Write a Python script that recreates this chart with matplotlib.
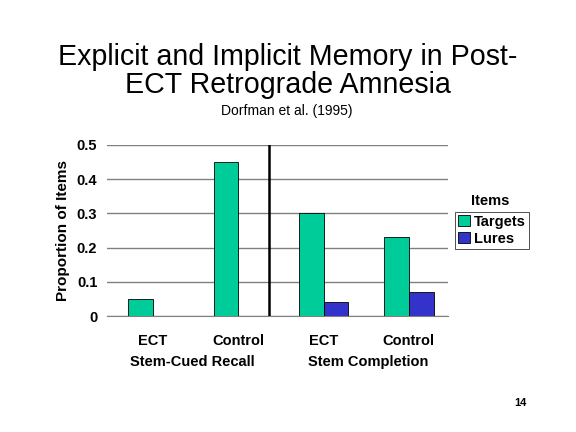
import matplotlib
matplotlib.use("Agg")
import matplotlib.pyplot as plt
import numpy as np
from matplotlib.patches import Patch

plt.rcParams['font.family'] = ['Liberation Sans', 'DejaVu Sans']

conditions = ["ECT", "Control", "ECT", "Control"]
groups = ["Stem-Cued Recall", "Stem Completion"]
targets = [0.05, 0.45, 0.30, 0.23]
lures = [np.nan, np.nan, 0.04, 0.07]
yticks = [0, 0.1, 0.2, 0.3, 0.4, 0.5]
ytick_labels = ["0", "0.1", "0.2", "0.3", "0.4", "0.5"]

green = "#00CC99"
blue = "#3333CC"

fig = plt.figure(figsize=(5.76, 4.32), dpi=100)
ax = fig.add_axes([107/576, 1-316/432, 341/576, 171/432])

x = np.arange(len(conditions))
w = 0.29
ax.bar(x - w/2, targets, w, color=green, edgecolor="black", linewidth=0.6, zorder=3)
ax.bar(x + w/2, lures, w, color=blue, edgecolor="black", linewidth=0.6, zorder=3)

ax.set_xlim(-0.54, 3.46)
ax.set_ylim(0, 0.5)
ax.set_yticks(yticks)
ax.set_yticklabels(ytick_labels, fontsize=10.5, fontweight="bold")
ax.set_xticks(x)
ax.set_xticklabels(conditions, fontsize=10.5, fontweight="bold")
ax.tick_params(axis="both", length=0)
ax.tick_params(axis="x", pad=13)
ax.tick_params(axis="y", pad=7)
ax.yaxis.grid(True, color="#808080", linewidth=1, zorder=0)
for s in ["left", "right", "top"]:
    ax.spines[s].set_visible(False)
ax.spines["bottom"].set_color("#808080")
ax.set_ylabel("Proportion of Items", fontsize=11, fontweight="bold", labelpad=5)

ax.axvline(1.36, color="black", linewidth=1.8, zorder=4)

trans = ax.get_xaxis_transform()
for gx, g in zip([0.46, 2.52], groups):
    ax.text(gx, -0.27, g, transform=trans, ha="center", va="center",
            fontsize=10.5, fontweight="bold")

fig.text(288/576, 1-57/432, "Explicit and Implicit Memory in Post-", ha="center",
         va="center", fontsize=20.6)
fig.text(288/576, 1-85/432, "ECT Retrograde Amnesia", ha="center",
         va="center", fontsize=20.6)
fig.text(287/576, 1-111/432, "Dorfman et al. (1995)", ha="center",
         va="center", fontsize=10)

handles = [Patch(facecolor=green, edgecolor="black", linewidth=0.6),
           Patch(facecolor=blue, edgecolor="black", linewidth=0.6)]
leg = fig.legend(handles, ["Targets", "Lures"], loc="upper left",
                 bbox_to_anchor=(455/576, 1-212/432), prop={"weight": "bold", "size": 10.5},
                 frameon=True, fancybox=False, edgecolor="black", borderpad=0.2,
                 handlelength=0.8, handleheight=0.8, handletextpad=0.3,
                 labelspacing=0.2, borderaxespad=0)
leg.get_frame().set_linewidth(0.6)
fig.text(490/576, 1-201/432, "Items", ha="center", va="center",
         fontsize=10.5, fontweight="bold")

fig.text(520/576, 1-403/432, "14", ha="center", va="center",
         fontsize=8, fontweight="bold")

fig.savefig("out.png", dpi=100)
